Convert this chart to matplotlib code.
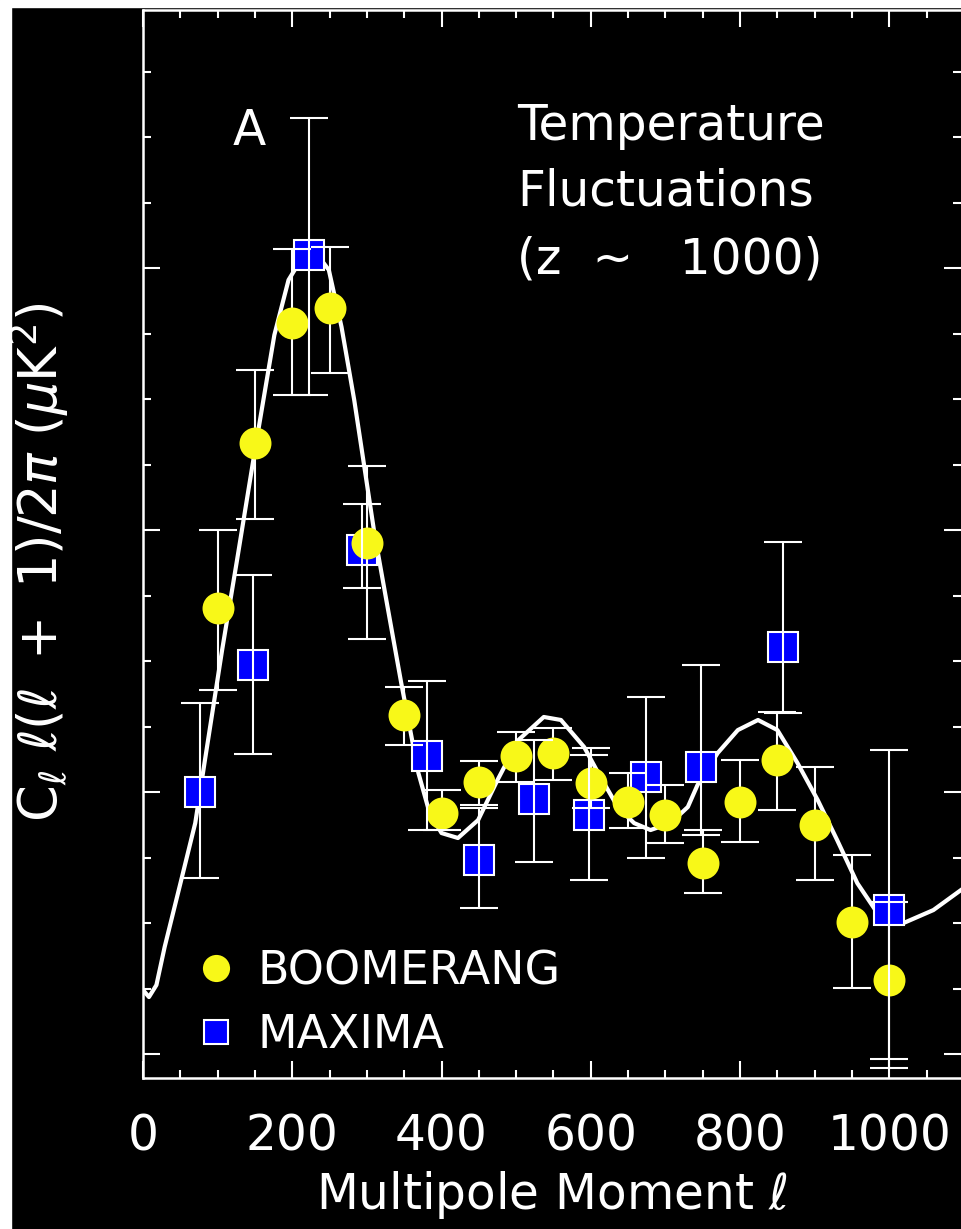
import matplotlib
matplotlib.use("Agg")
import matplotlib.pyplot as plt
from matplotlib.patches import Rectangle
from matplotlib.ticker import MultipleLocator

# BOOMERANG band powers (uK^2) with lower / upper error ends
boom_l = [100, 150, 200, 250, 300, 350, 400, 450, 500, 550,
          600, 650, 700, 750, 800, 850, 900, 950, 1000]
boom_y = [3405, 4664, 5580, 5695, 3901, 2588, 1840, 2076, 2275, 2298,
          2069, 1924, 1825, 1458, 1924, 2244, 1748, 1008, 565]
boom_lo = [2779, 4084, 5031, 5199, 3168, 2359, 1710, 1901, 2076, 2092,
           1878, 1725, 1611, 1229, 1618, 1863, 1328, 504, -107]
boom_hi = [4000, 5222, 6145, 6161, 4489, 2802, 2015, 2237, 2458, 2489,
           2336, 2145, 2053, 1710, 2244, 2611, 2191, 1519, 1160]

# MAXIMA band powers
max_l = [77, 147, 223, 294, 380, 450, 524, 597, 674, 747, 857, 1000]
max_y = [2000, 2970, 6100, 3847, 2275, 1481, 1947, 1825, 2115, 2191, 3107, 1099]
max_lo = [1344, 2290, 5031, 3557, 1710, 1115, 1466, 1328, 1496, 1672, 2603, -38]
max_hi = [2680, 3657, 7145, 4199, 2847, 1878, 2397, 2283, 2725, 2970, 3909, 2321]

# model curve
curve_l = [0, 8, 18, 29, 50, 70, 83, 106, 126, 150, 176, 195, 213, 223, 237,
           249, 266, 283, 310, 326, 346, 369, 384, 400, 422, 449, 475, 503,
           537, 560, 591, 610, 636, 658, 680, 707, 730, 743, 770, 797, 824,
           850, 877, 904, 930, 957, 984, 1019, 1059, 1096]
curve_y = [489, 435, 527, 817, 1300, 1763, 2244, 3084, 3771, 4611, 5489, 5909,
           6077, 6099, 6077, 5985, 5550, 4993, 3977, 3466, 2832, 2145, 1840,
           1687, 1649, 1786, 2092, 2397, 2573, 2550, 2344, 2145, 1886, 1763,
           1710, 1763, 1886, 2054, 2298, 2473, 2550, 2473, 2221, 1939, 1634,
           1305, 1076, 1000, 1099, 1252]

xticks = [0, 200, 400, 600, 800, 1000]

W, H = 961, 1229
fig = plt.figure(figsize=(W / 100, H / 100), dpi=100, facecolor="black")
# thin white border at left and top of the scan
fig.patches.append(Rectangle((0, 0), 11 / W, 1, transform=fig.transFigure,
                             color="white", zorder=10))
fig.patches.append(Rectangle((0, 1 - 7 / H), 1, 7 / H, transform=fig.transFigure,
                             color="white", zorder=10))

ax = fig.add_axes([143 / W, 1 - 1078 / H, (961 - 143) / W, (1078 - 10) / H])
ax.set_facecolor("black")

ax.plot(curve_l, curve_y, color="white", lw=3.0, zorder=2)

ax.plot(max_l, max_y, "s", ms=21, mfc="#0000ff", mec="white", mew=1.5,
        zorder=3, label="MAXIMA")
ax.errorbar(boom_l, boom_y,
            yerr=[[y - lo for y, lo in zip(boom_y, boom_lo)],
                  [hi - y for y, hi in zip(boom_y, boom_hi)]],
            fmt="none", ecolor="white", elinewidth=1.5, capsize=14,
            capthick=1.5, zorder=3.5)
ax.plot(boom_l, boom_y, "o", ms=23, mfc="#f8f818", mec="none",
        zorder=4, label="BOOMERANG")
ax.errorbar(max_l, max_y,
            yerr=[[y - lo for y, lo in zip(max_y, max_lo)],
                  [hi - y for y, hi in zip(max_y, max_hi)]],
            fmt="none", ecolor="white", elinewidth=1.5, capsize=14,
            capthick=1.5, zorder=5)

ax.set_xlim(0, 1096)
ax.set_ylim(-183, 7970)
ax.set_xticks(xticks)
ax.xaxis.set_minor_locator(MultipleLocator(50))
ax.yaxis.set_major_locator(MultipleLocator(2000))
ax.yaxis.set_minor_locator(MultipleLocator(500))
ax.tick_params(which="both", direction="in", top=True, right=True,
               colors="white", width=1.5, labelleft=False)
ax.tick_params(which="major", length=12, pad=25, labelsize=35)
ax.tick_params(which="minor", length=6)
for s in ax.spines.values():
    s.set_color("white")
    s.set_linewidth(1.8)
ax.spines["right"].set_visible(False)

ax.set_xlabel(r"Multipole Moment $\ell$", color="white", fontsize=35)
ax.xaxis.set_label_coords(0.5, -0.085)
ax.set_ylabel(r"$\mathrm{C}_\ell\ \ell(\ell\ +\ 1)/2\pi\ (\mu\mathrm{K}^2)$",
              color="white", fontsize=38)
ax.yaxis.set_label_coords(-0.088, 0.483)

ax.text(0.109, 0.8736, "A", transform=ax.transAxes, color="white",
        fontsize=35, va="baseline")
for txt, yy in [("Temperature", 0.878), ("Fluctuations", 0.8174),
                ("(z  ~   1000)", 0.7537)]:
    ax.text(0.457, yy, txt, transform=ax.transAxes, color="white",
            fontsize=35, va="baseline")

handles, labels = ax.get_legend_handles_labels()
leg = ax.legend(handles[::-1], labels[::-1], loc="lower left",
                bbox_to_anchor=(0.067, 0.019), frameon=False, fontsize=33,
                handlelength=0.8, handletextpad=0.5, labelspacing=0.4,
                borderpad=0, borderaxespad=0, markerscale=0.85)
for t in leg.get_texts():
    t.set_color("white")

fig.savefig("out.png", dpi=100, facecolor="black")
